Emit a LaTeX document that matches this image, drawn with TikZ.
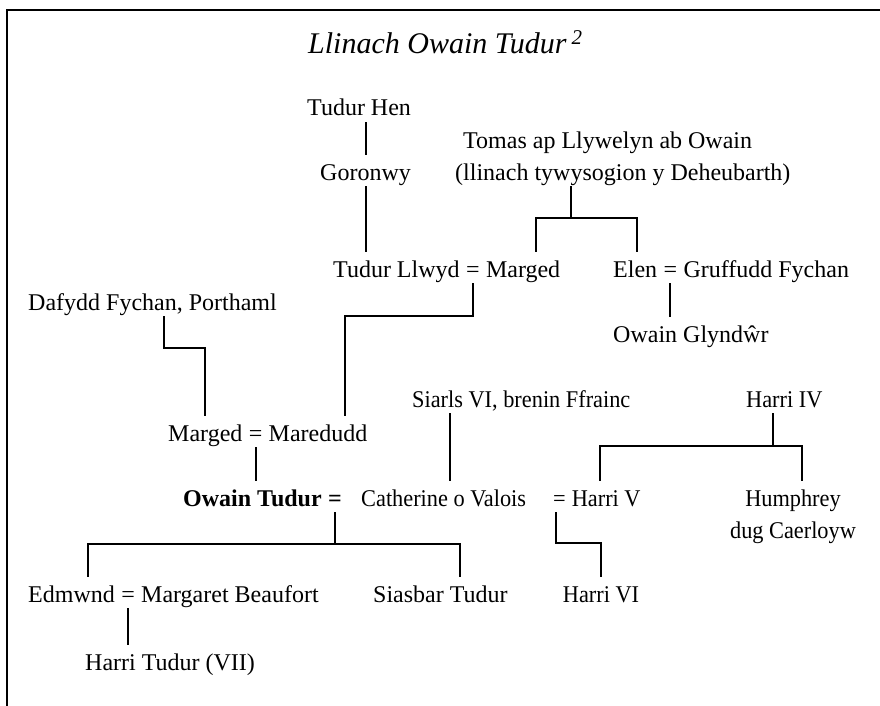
\documentclass[tikz,border=0pt]{standalone}
\usepackage{fontspec}
\setmainfont{Liberation Serif}
\newfontfamily\tightserif[FakeStretch=0.93]{Liberation Serif}
\usetikzlibrary{positioning}
\tikzset{
	pers/.style={inner xsep=0pt, inner ysep=1pt, text height=24pt, text depth=5pt, anchor=base west, font=\fontsize{24}{32}\selectfont},
	narrowpers/.style={pers, font=\tightserif\fontsize{24}{32}\selectfont},
	famline/.style={line width=2pt}
}

\begin{document}
\begin{tikzpicture}[x=1pt, y=-1pt]
			%%%%% START %%%%%
			\useasboundingbox (0, 0) rectangle (880, 706);
			
			\draw[line width=2.2pt] (7, 706) -- (7, 10) -- (880, 10);
			
			\node[anchor=base west, inner sep=0pt, font=\fontsize{30}{36}\selectfont\itshape] (title) at (308, 54) {Llinach Owain Tudur\,\textsuperscript{2}};
			
			\node[pers] (hen) at (307, 116) {Tudur Hen};
			\node[pers] (goronwy) at (320, 180) {Goronwy};
			\node[pers] (tomas) at (463, 148) {Tomas ap Llywelyn ab Owain};
			\node[pers] (deheu) at (455, 180) {(llinach tywysogion y Deheubarth)};
			
			\node[pers] (llwyd) at (333, 277) {Tudur Llwyd};
			\node[pers, base right=6pt of llwyd] (eqa) {=};
			\node[pers, base right=6pt of eqa] (marga) {Marged};
			
			\node[pers] (elen) at (613, 277) {Elen};
			\node[pers, base right=6pt of elen] (eqb) {=};
			\node[pers, base right=6pt of eqb] (gruffudd) {Gruffudd Fychan};
			\node[pers] (glyndwr) at (613, 342) {Owain Glyndŵr};
			
			\node[pers] (dafydd) at (28, 310) {Dafydd Fychan, Porthaml};
			
			\node[pers] (margb) at (168, 441) {Marged};
			\node[pers, base right=6pt of margb] (eqc) {=};
			\node[pers, base right=6pt of eqc] (maredudd) {Maredudd};
			
			\node[narrowpers] (siarls) at (412, 407) {Siarls VI, brenin Ffrainc};
			\node[narrowpers] (harriiv) at (746, 407) {Harri IV};
			
			\node[pers] (owain) at (183, 506) {\textbf{Owain Tudur}};
			\node[pers, base right=6pt of owain] (eqd) {\textbf{=}};
			\node[narrowpers] (catherine) at (361, 506) {Catherine o Valois};
			\node[narrowpers] (eqe) at (553, 506) {=};
			\node[narrowpers, base right=5.6pt of eqe] (harriv) {Harri V};
			\node[narrowpers, anchor=base] (humphrey) at (793, 506) {Humphrey};
			\node[narrowpers, anchor=base] (dug) at (793, 538) {dug Caerloyw};
			
			\node[pers] (edmwnd) at (28, 602) {Edmwnd};
			\node[pers, base right=6pt of edmwnd] (eqf) {=};
			\node[pers, base right=6pt of eqf] (beaufort) {Margaret Beaufort};
			\node[pers] (siasbar) at (373, 602) {Siasbar Tudur};
			\node[narrowpers, anchor=base] (harrivi) at (601, 602) {Harri VI};
			
			\node[pers] (harrivii) at (85, 670) {Harri Tudur (VII)};
			
			% tudur line
			\draw[famline] (hen.south -| goronwy.north) -- (goronwy.north);
			\draw[famline] (goronwy.south) -- (goronwy.south |- llwyd.north);
			
			% deheubarth
			\draw[famline] ([xshift=-52pt]deheu.south) -- ++(0, 32) coordinate (tomasjoin);
			\draw[famline] ([xshift=13pt]marga.north) |- (tomasjoin) -| ([xshift=2pt]elen.north);
			\draw[famline] (eqb.south) -- (eqb.south |- glyndwr.north);
			
			\draw[famline] ([xshift=11pt]dafydd.south) -- ++(0, 32) -| (margb.north);
			\draw[famline] (eqa.south) -- ++(0, 33) -| ([xshift=27pt]maredudd.north);
			\draw[famline] (eqc.south) -- (eqc.south |- owain.north);
			
			% valois and lancaster
			\draw[famline] ([xshift=6.3pt]catherine.north |- siarls.south) -- ([xshift=6.3pt]catherine.north);
			\draw[famline] ([xshift=-11pt]harriiv.south) -- ++(0, 33) coordinate (harrijoin);
			\draw[famline] ([xshift=-6.6pt]harriv.north) |- (harrijoin) -| ([xshift=9pt]humphrey.north);
			\draw[famline] ([xshift=-3.3pt]eqe.south) -- ++(0, 31) -| (harrivi.north);
			
			% children
			\draw[famline] (eqd.south) -- ++(0, 32) coordinate (owainjoin);
			\draw[famline] ([xshift=16pt]edmwnd.north) |- (owainjoin) -| ([xshift=20pt]siasbar.north);
			\draw[famline] (eqf.south) -- (eqf.south |- harrivii.north);
			
			%%%%% END %%%%%
\end{tikzpicture}
\end{document}
